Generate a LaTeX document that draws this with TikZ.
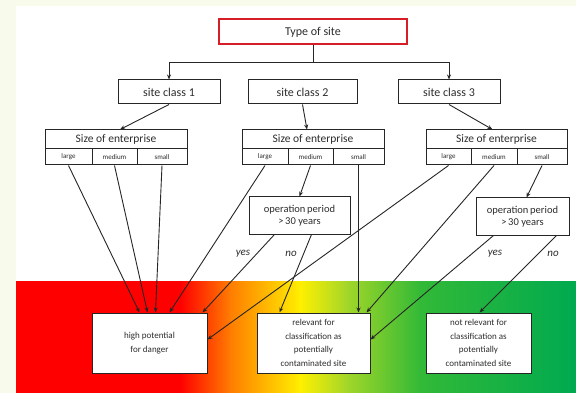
\documentclass[tikz,border=0pt]{standalone}
\usepackage{fontspec}
\setmainfont{Carlito}
\usetikzlibrary{arrows.meta,calc}
\definecolor{cream}{RGB}{248,250,236}
\definecolor{txt}{RGB}{45,45,45}
\definecolor{boxred}{RGB}{214,30,40}
\definecolor{cA}{RGB}{255,0,0}
\definecolor{cB}{RGB}{255,125,0}
\definecolor{cC}{RGB}{255,240,0}
\definecolor{cD}{RGB}{165,215,40}
\definecolor{cE}{RGB}{50,185,55}
\definecolor{cF}{RGB}{0,170,80}
\tikzset{
  bx/.style={draw=black!85,line width=1pt,fill=white,text=txt,inner sep=0pt,align=center},
  cls/.style={bx,minimum width=102pt,minimum height=24pt,font=\fontsize{12}{14}\selectfont},
  hdr/.style={bx,minimum width=142pt,minimum height=19pt,font=\fontsize{11.5}{13}\selectfont},
  cell/.style={bx,minimum height=16pt,font=\fontsize{7}{8}\selectfont},
  opb/.style={bx,font=\fontsize{10.5}{13}\selectfont},
  res/.style={bx,minimum height=60pt,font=\fontsize{9}{13.5}\selectfont},
  ar/.style={draw=black!85,line width=0.9pt,-{Stealth[length=5pt,width=4pt]}},
  ln/.style={draw=black!85,line width=0.9pt},
  yn/.style={text=txt,font=\fontsize{11}{13}\selectfont\itshape,inner sep=0pt}
}
\begin{document}
\begin{tikzpicture}[x=1pt,y=-1pt]
\useasboundingbox (0,0) rectangle (576,393);
\fill[cream] (0,0) rectangle (576,393);
\fill[white] (16,6) rectangle (576,393);
% gradient band
\fill[cA] (16,281) rectangle (181,393);
\shade[left color=cA,right color=cB] (180,281) rectangle (231,393);
\shade[left color=cB,right color=cC] (230,281) rectangle (301,393);
\shade[left color=cC,right color=cD] (300,281) rectangle (346,393);
\shade[left color=cD,right color=cE] (345,281) rectangle (421,393);
\shade[left color=cE,right color=cF] (420,281) rectangle (576,393);

% top
\node[bx,draw=boxred,line width=2pt,minimum width=188pt,minimum height=25pt,font=\fontsize{12}{14}\selectfont] (t) at (313,32) {Type of site};
\node[cls] (c1) at (169,92) {site class 1};
\node[cls,minimum width=109pt] (c2) at (302.5,92) {site class 2};
\node[cls] (c3) at (449,92) {site class 3};
\coordinate (j) at (313,62);
\draw[ln] (t.south) -- (j);
\draw[ar] (j) -| (c1.north);
\draw[ar] (j) -| (c3.north);

% size of enterprise boxes
\node[hdr] (h1) at (116,139.5) {Size of enterprise};
\node[cell,minimum width=47pt] (s1l) at (68.5,157) {large};
\node[cell,minimum width=45pt] (s1m) at (114.5,157) {medium};
\node[cell,minimum width=50pt] (s1s) at (162,157) {small};
\node[hdr] (h2) at (313,139.5) {Size of enterprise};
\node[cell,minimum width=46pt] (s2l) at (265,157) {large};
\node[cell,minimum width=45pt] (s2m) at (310.5,157) {medium};
\node[cell,minimum width=51pt] (s2s) at (358.5,157) {small};
\node[hdr,minimum width=141pt] (h3) at (496.5,139.5) {Size of enterprise};
\node[cell,minimum width=45pt] (s3l) at (448.5,157) {large};
\node[cell,minimum width=46pt] (s3m) at (494,157) {medium};
\node[cell,minimum width=50pt] (s3s) at (542,157) {small};

\draw[ar] (c1.south) -- ($(h1.north)+(4,0)$);
\draw[ar] (c2.south) -- ($(h2.north)+(-6,0)$);
\draw[ar] (c3.south) -- ($(h3.north)+(-4,0)$);

% operation period boxes
\node[opb,minimum width=101pt,minimum height=37pt] (o2) at (299.5,215.5) {operation\,period\\[-1pt]{>}\,30 years};
\node[opb,minimum width=93pt,minimum height=37pt] (o3) at (522.5,216.5) {operation\,period\\[-1pt]{>}\,30 years};
\draw[ar] (s2m.south) -- (o2.north);
\draw[ar] (s3s.south) -- ($(o3.north)+(4,0)$);

% result boxes
\node[res,minimum width=115pt] (r1) at (149.5,343) {high potential\\for danger};
\node[res,minimum width=113pt] (r2) at (313.5,343) {relevant for\\classification as\\potentially\\contaminated site};
\node[res,minimum width=105pt] (r3) at (478.5,343) {not relevant for\\classification as\\potentially\\contaminated site};

% connectors
\draw[ar] (s1l.south) -- ($(r1.north west)+(48,0)$);
\draw[ar] (s1m.south) -- ($(r1.north west)+(56,0)$);
\draw[ar] (s1s.south) -- ($(r1.north west)+(64,0)$);
\draw[ar] (s2l.south) -- ($(r1.north west)+(78,0)$);
\draw[ar] ($(o2.south west)+(26,0)$) -- ($(r1.north west)+(111,0)$);
\draw[ar] (s3l.south) -- ($(r1.north east)+(0,27)$);
\draw[ar] ($(o2.south west)+(63,0)$) -- ($(r2.north west)+(23,0)$);
\draw[ar] (s2s.south) -- (s2s.south |- r2.north);
\draw[ar] (s3m.south) -- ($(r2.north west)+(110,0)$);
\draw[ar] ($(o3.south west)+(18,0)$) -- ($(r2.north east)+(0,27)$);
\draw[ar] ($(o3.south west)+(81,0)$) -- ($(r3.north west)+(54,0)$);

\node[yn] (y2) at (243,254) {yes};
\node[yn] (n2) at (291,254) {no};
\node[yn] (y3) at (495,254) {yes};
\node[yn] (n3) at (553,254) {no};
\end{tikzpicture}
\end{document}
